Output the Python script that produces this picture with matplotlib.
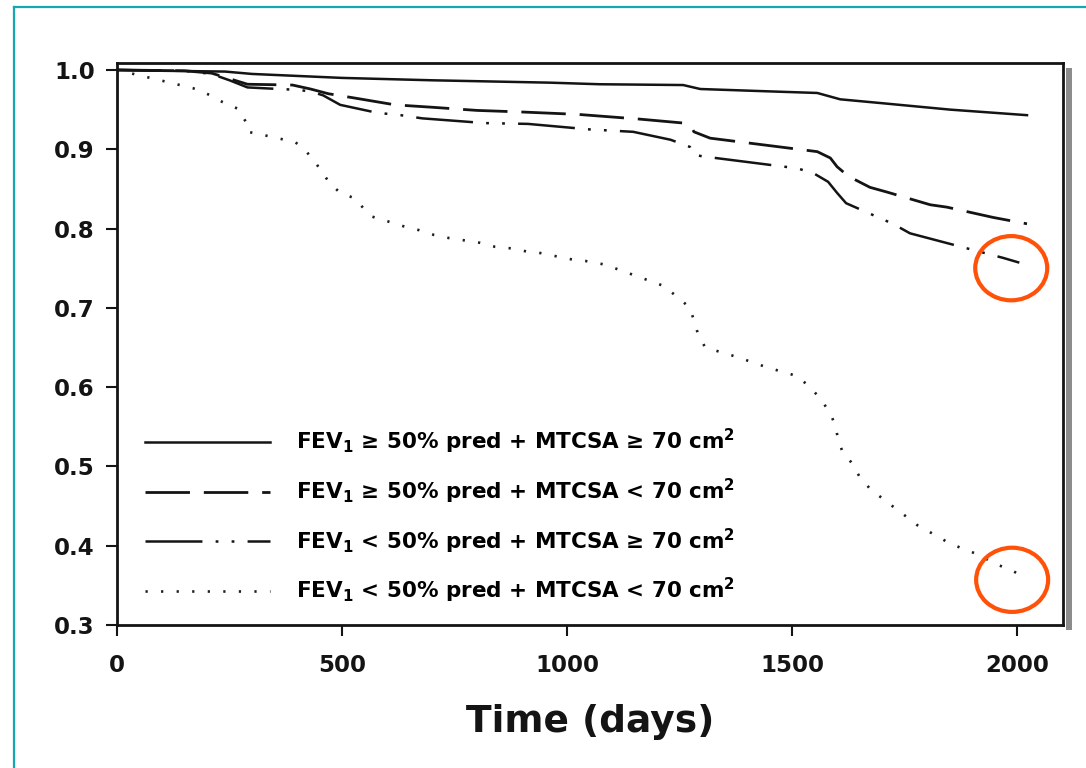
import matplotlib
matplotlib.use("Agg")
import matplotlib.pyplot as plt
from matplotlib.patches import Ellipse, Rectangle
from matplotlib.lines import Line2D

# Kaplan-Meier style survival curves (time in days, survival probability)
days_hi_hi = [0, 100, 240, 300, 500, 700, 962, 1073, 1258, 1296, 1450, 1556, 1607, 1702, 1851, 2022]
surv_hi_hi = [1.0, 0.999, 0.998, 0.995, 0.990, 0.987, 0.984, 0.982, 0.981, 0.976, 0.973, 0.971, 0.963, 0.958, 0.950, 0.943]

days_hi_lo = [0, 150, 210, 250, 290, 390, 430, 470, 524, 618, 700, 800, 900, 1024, 1162, 1260,
              1275, 1282, 1318, 1556, 1585, 1600, 1625, 1673, 1711, 1807, 1844, 1947, 2022]
surv_hi_lo = [1.0, 0.999, 0.996, 0.989, 0.982, 0.981, 0.976, 0.970, 0.965, 0.956, 0.953, 0.949, 0.947, 0.944, 0.938, 0.933,
              0.929, 0.922, 0.914, 0.897, 0.889, 0.878, 0.866, 0.852, 0.846, 0.830, 0.827, 0.814, 0.806]

days_lo_hi = [0, 150, 210, 250, 290, 360, 400, 430, 458, 496, 578, 630, 678, 818, 913, 1051, 1147, 1230,
              1273, 1282, 1302, 1511, 1547, 1580, 1600, 1620, 1724, 1762, 1969, 2005]
surv_lo_hi = [1.0, 0.999, 0.995, 0.987, 0.978, 0.976, 0.975, 0.973, 0.968, 0.956, 0.946, 0.943, 0.939, 0.933, 0.932, 0.925, 0.922, 0.912,
              0.903, 0.893, 0.891, 0.876, 0.870, 0.859, 0.845, 0.832, 0.806, 0.794, 0.763, 0.757]

days_lo_lo = [0, 22, 96, 169, 200, 233, 269, 289, 291, 333, 396, 418, 440, 473, 496, 529, 547, 567, 602, 636, 671,
              704, 738, 773, 807, 840, 876, 911, 942, 976, 1011, 1042, 1080, 1111, 1213, 1247, 1273, 1282, 1291,
              1307, 1378, 1444, 1511, 1540, 1562, 1584, 1596, 1602, 1611, 1633, 1651, 1673, 1711, 1744, 1778,
              1813, 1847, 1880, 1918, 1947, 1984, 2018]
surv_lo_lo = [1.0, 0.997, 0.987, 0.977, 0.970, 0.960, 0.951, 0.932, 0.922, 0.917, 0.909, 0.899, 0.884, 0.857, 0.845, 0.838, 0.826, 0.815, 0.809, 0.803, 0.798,
              0.792, 0.788, 0.785, 0.782, 0.777, 0.775, 0.771, 0.769, 0.765, 0.761, 0.759, 0.755, 0.749, 0.728, 0.713, 0.700, 0.684, 0.667,
              0.650, 0.638, 0.625, 0.614, 0.600, 0.586, 0.568, 0.552, 0.535, 0.520, 0.504, 0.486, 0.472, 0.455, 0.441, 0.426,
              0.415, 0.404, 0.396, 0.388, 0.378, 0.370, 0.360]

labels = [
    r"FEV$_1$ ≥ 50% pred + MTCSA ≥ 70 cm$^2$",
    r"FEV$_1$ ≥ 50% pred + MTCSA < 70 cm$^2$",
    r"FEV$_1$ < 50% pred + MTCSA ≥ 70 cm$^2$",
    r"FEV$_1$ < 50% pred + MTCSA < 70 cm$^2$",
]

x_ticks = [0, 500, 1000, 1500, 2000]
y_ticks = [0.3, 0.4, 0.5, 0.6, 0.7, 0.8, 0.9, 1.0]

# highlighted end points (day, survival)
highlight_pts = [(1987, 0.750), (1989, 0.357)]

plt.rcParams["font.family"] = ["DejaVu Sans"]
plt.rcParams["font.weight"] = "bold"
plt.rcParams["mathtext.fontset"] = "custom"
plt.rcParams["mathtext.bf"] = "DejaVu Sans:bold"
plt.rcParams["mathtext.rm"] = "DejaVu Sans:bold"
plt.rcParams["mathtext.default"] = "bf"
plt.rcParams["lines.scale_dashes"] = False

W, H = 1086, 768
fig = plt.figure(figsize=(W / 100, H / 100), dpi=100)
fig.patch.set_facecolor("white")
ax = fig.add_axes([117 / W, 1 - 625 / H, (1063 - 117) / W, (625 - 63) / H])

# drop shadow on the right side of the frame
fig.patches.append(Rectangle((1066 / W, 1 - 630 / H), 6 / W, (630 - 68) / H,
                             transform=fig.transFigure, facecolor="#8c8c8c",
                             edgecolor="none", zorder=0))

# teal slide frame
fig.add_artist(Line2D([14 / W, 14 / W], [0, 1 - 7 / H], transform=fig.transFigure,
                      color="#14a9b1", lw=1.6))
fig.add_artist(Line2D([14 / W, 1], [1 - 7 / H, 1 - 7 / H], transform=fig.transFigure,
                      color="#14a9b1", lw=1.6))

ink = "#141414"
h1, = ax.plot(days_hi_hi, surv_hi_hi, color=ink, lw=1.8, linestyle="-")
h2, = ax.plot(days_hi_lo, surv_hi_lo, color=ink, lw=2.0, linestyle=(0, (32, 10)))
h3, = ax.plot(days_lo_hi, surv_lo_hi, color=ink, lw=1.8,
              linestyle=(0, (41, 9.5, 2, 9.5, 2, 9.5)))
h4, = ax.plot(days_lo_lo, surv_lo_lo, color="#1e1e1e", lw=1.9, linestyle=(0, (1.6, 9.6)))

for cx, cy in highlight_pts:
    ax.add_patch(Ellipse((cx, cy), width=160, height=0.081, facecolor="none",
                         edgecolor="#ff5208", lw=3.0, clip_on=False, zorder=5))

ax.set_xlim(0, 2102)
ax.set_ylim(0.3, 1.0088)
ax.set_xticks(x_ticks)
ax.set_xticklabels([str(t) for t in x_ticks])
ax.set_yticks(y_ticks)
ax.set_yticklabels([f"{t:.1f}" for t in y_ticks])
ax.tick_params(direction="out", length=8, width=1.5, labelsize=16.5, colors=ink)
ax.tick_params(axis="y", pad=8)
ax.tick_params(axis="x", pad=13)
for lab in ax.get_xticklabels() + ax.get_yticklabels():
    lab.set_fontweight("bold")
for sp in ax.spines.values():
    sp.set_linewidth(2.0)
    sp.set_color(ink)

ax.set_xlabel("Time (days)", fontsize=27, fontweight="bold", labelpad=19, color=ink)

ax.legend([h1, h2, h3, h4], labels, loc="upper left", bbox_to_anchor=(0.0296, 0.352),
          frameon=False, prop={"size": 15.5, "weight": "bold"}, handlelength=5.8,
          handletextpad=1.2, labelspacing=0.95, borderpad=0, borderaxespad=0)

fig.savefig("out.png", dpi=100)
